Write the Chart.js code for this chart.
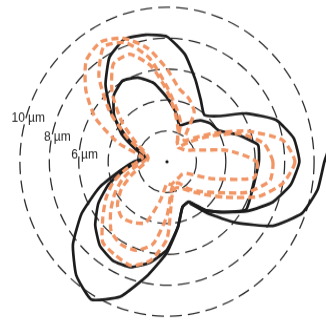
<!DOCTYPE html>
<html>
<head>
<meta charset="utf-8">
<script src="https://cdn.jsdelivr.net/npm/chart.js@4.4.1/dist/chart.umd.min.js"></script>
<style>
  html, body { margin: 0; padding: 0; background: #fff; overflow: hidden; }
  #wrap { width: 326px; height: 325px; overflow: hidden; position: relative; background: #fff; }
  #chart { position: absolute; left: 0; top: 0; transform: scaleY(1.05); transform-origin: 0 0; }
</style>
</head>
<body>
<div id="wrap"><canvas id="chart" width="334" height="309"></canvas></div>
<script>
// direction in degrees, clockwise starting from the right-hand side
const angles = [0, 10, 20, 30, 40, 50, 60, 70, 80, 90, 100, 110, 120, 130, 140, 150, 160, 170,
                180, 190, 200, 210, 220, 230, 240, 250, 260, 270, 280, 290, 300, 310, 320, 330, 340, 350];

// radius in µm for each direction
const blackOuter = [9.0, 8.55, 7.65, 6.37, 5.07, 4.12, 3.0, 3.1, 4.3, 5.88, 7.45, 9.3, 10.3, 9.6, 8.35, 6.7, 4.9, 3.2,
                    2.25, 1.55, 2.0, 3.15, 4.95, 6.5, 7.82, 8.45, 8.35, 8.1, 7.05, 5.65, 4.6, 3.95, 4.6, 6.25, 7.9, 8.75];
const blackInner = [6.25, 6.1, 6.1, 6.2, 5.1, 4.12, 3.0, 3.1, 4.28, 5.7, 6.63, 7.27, 7.38, 7.1, 6.37, 5.39, 4.2, 2.88,
                    2.05, 1.4, 2.2, 3.55, 4.7, 5.62, 6.05, 5.8, 5.17, 4.15, 3.3, 2.5, 2.9, 3.5, 3.85, 4.05, 5.1, 6.28];
const blackFar = [10.7, 10.4, 9.77, 8.3, 6.15, 4.4, 3.1, null, null, null, null, null, null, null, null, null, null, null,
                  null, null, null, null, null, null, null, null, null, null, null, null, null, null, null, null, null, 11.6];
const orangeOuter = [8.7, 8.0, 6.6, 4.6, 3.3, 2.5, 2.0, 1.8, 2.1, 5.0, 6.5, 7.15, 7.0, 6.8, 5.7, 4.8, 3.9, 2.85,
                     2.0, 1.7, 3.5, 5.6, 7.2, 8.55, 8.97, 8.5, 7.45, 6.0, 4.8, 4.35, 3.7, 1.8, 2.4, 3.7, 5.8, 8.0];
const orangeMid = [7.2, 7.1, 5.8, 4.0, 3.0, 2.3, 1.6, 1.5, 1.8, 3.5, 5.4, 6.1, 6.2, 5.9, 5.0, 4.1, 3.2, 2.3,
                   1.6, 1.4, 1.7, 3.1, 5.1, 7.2, 8.6, 8.2, 6.8, 4.85, 3.56, 2.7, 1.4, 1.3, 2.0, 3.3, 5.3, 6.7];
const orangeInner = [6.1, 6.0, 3.2, 1.5, 1.3, 1.3, 1.3, 1.4, 1.5, 1.4, 2.5, 4.2, 4.55, 4.75, 4.4, 3.6, 2.6, 1.8,
                     1.4, 1.3, 1.5, 2.4, 4.0, 5.8, 7.3, 7.4, 6.3, 4.6, 3.2, 2.2, 1.4, 1.2, 1.3, 1.5, 2.2, 4.2];

// rings that carry a text label
const ringLabels = [10, 8, 6];

const ORANGE = '#f29565';
const BLACK = '#1c1c1c';

function orangeSet(data) {
  return { data, borderColor: ORANGE, borderWidth: 3.3, borderDash: [7, 4], fill: false, pointRadius: 0, tension: 0.2 };
}
function blackSet(data) {
  return { data, borderColor: BLACK, borderWidth: 2.7, fill: false, pointRadius: 0, tension: 0.15, spanGaps: false };
}

const ringLabelPlugin = {
  id: 'ringLabels',
  afterDraw(chart) {
    const s = chart.scales.r;
    const ctx = chart.ctx;
    const dir = { 10: 196.5, 8: 191.6, 6: 184.4 };
    ctx.save();
    ctx.font = '12px "Liberation Sans", Arial, sans-serif';
    ctx.fillStyle = '#222';
    ctx.textBaseline = 'middle';
    ringLabels.forEach(v => {
      const a = dir[v] * Math.PI / 180;
      const d = s.getDistanceFromCenterForValue(v);
      const x = s.xCenter + Math.cos(a) * d;
      const y = s.yCenter + Math.sin(a) * d;
      ctx.textAlign = 'right';
      ctx.fillText(String(v), x - 1, y);
      ctx.textAlign = 'left';
      ctx.fillText('µm', x + 2, y);
    });
    // small dot marking the origin
    ctx.fillStyle = '#111';
    ctx.beginPath();
    ctx.arc(s.xCenter, s.yCenter, 1.6, 0, Math.PI * 2);
    ctx.fill();
    ctx.restore();
  }
};

new Chart(document.getElementById('chart'), {
  type: 'radar',
  data: {
    labels: angles.map(a => a + '°'),
    datasets: [
      orangeSet(orangeOuter),
      orangeSet(orangeMid),
      orangeSet(orangeInner),
      blackSet(blackOuter),
      blackSet(blackInner),
      blackSet(blackFar)
    ]
  },
  options: {
    responsive: false,
    animation: false,
    plugins: { legend: { display: false }, tooltip: { enabled: false } },
    scales: {
      r: {
        min: 0,
        max: 10.47,
        startAngle: 90,
        afterBuildTicks: s => { s.ticks = s.ticks.filter(t => t.value % 2 === 0); },
        ticks: { display: false, stepSize: 2 },
        angleLines: { display: false },
        pointLabels: { display: false },
        grid: { circular: true, color: '#2e2e2e', lineWidth: 1.3 },
        border: { dash: [12, 6] }
      }
    }
  },
  plugins: [ringLabelPlugin]
});
</script>
</body>
</html>
